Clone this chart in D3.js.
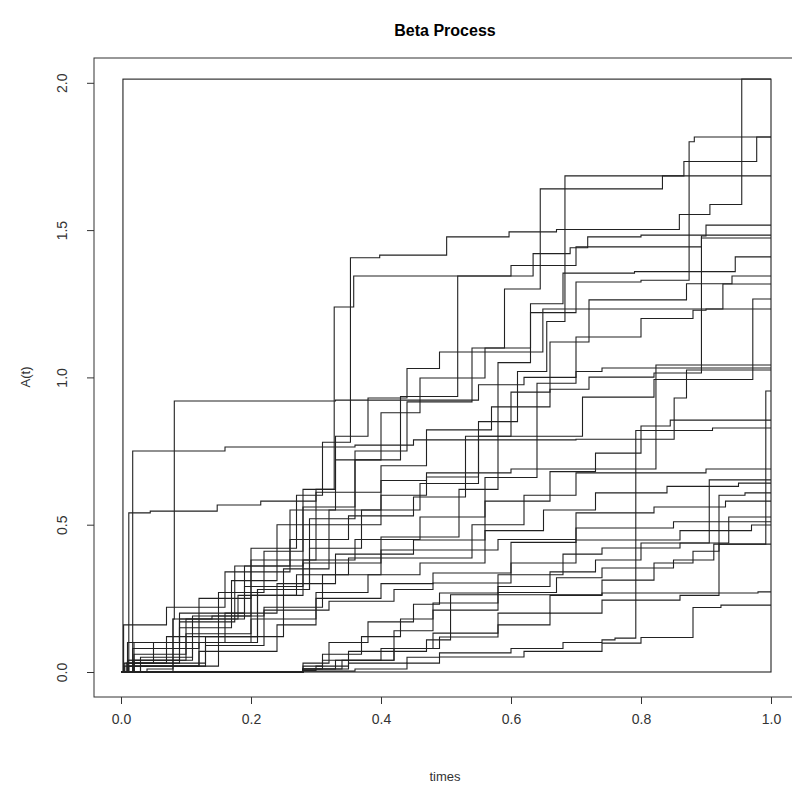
<!DOCTYPE html>
<html>
<head>
<meta charset="utf-8">
<script src="https://cdn.jsdelivr.net/npm/d3@7"></script>
<style>
    body { margin: 0; background: #fff; }
    text { font-family: "Liberation Sans", Arial, sans-serif; }
</style>
</head>
<body>
<svg width="792" height="789"></svg>
<script>
const title = "Beta Process";
const xLabel = "times";
const yLabel = "A(t)";
const xTicks = [0, 0.2, 0.4, 0.6, 0.8, 1.0];
const yTicks = [0, 0.5, 1.0, 1.5, 2.0];
// inner frame drawn around the paths
const frameT = [0.003, 1.0];
const frameA = [0, 2.0125];

// each path: jump times with the value reached after the jump
const paths = [
    [[0.03,0.05],[0.11,0.19],[0.20,0.42],[0.27,0.60],[0.31,0.78],[0.353,1.406],[0.398,1.415],[0.501,1.477],[0.597,1.494],[0.67,1.502],[0.859,1.553],[0.906,1.587],[0.955,2.013]],
    [[0.01,0.04],[0.09,0.15],[0.17,0.31],[0.24,0.50],[0.30,0.62],[0.328,1.239],[0.358,1.344],[0.634,1.42],[0.691,1.44],[0.718,1.477],[0.80,1.483]],
    [[0.01,0.03],[0.07,0.12],[0.15,0.27],[0.22,0.41],[0.28,0.62],[0.33,0.80],[0.38,0.93],[0.44,1.03],[0.49,1.086],[0.649,1.232],[0.926,1.317]],
    [[0.008,0.03],[0.09,0.17],[0.175,0.36],[0.26,0.55],[0.33,0.72],[0.40,0.88],[0.46,0.998],[0.56,1.10],[0.63,1.22],[0.70,1.324],[0.80,1.33],[0.874,1.80],[0.882,1.816]],
    [[0.02,0.03],[0.13,0.12],[0.21,0.28],[0.29,0.52],[0.36,0.72],[0.43,0.935],[0.518,1.344],[0.60,1.38],[0.70,1.443],[0.893,1.473]],
    [[0.08,0.18],[0.082,0.92],[0.33,0.923],[0.55,0.975],[0.62,1.00],[0.70,1.02],[0.74,1.032]],
    [[0.02,0.06],[0.10,0.18],[0.19,0.36],[0.28,0.56],[0.36,0.75],[0.44,0.917],[0.54,1.10],[0.59,1.30],[0.645,1.64],[0.833,1.684]],
    [[0.005,0.02],[0.15,0.12],[0.25,0.35],[0.32,0.55],[0.40,0.70],[0.47,0.822],[0.57,0.90],[0.66,0.96],[0.72,1.001],[0.82,1.015],[0.893,1.48],[0.90,1.517]],
    [[0.018,0.75],[0.16,0.764],[0.36,0.77],[0.45,0.788],[0.70,0.79],[0.851,0.93],[0.87,1.025]],
    [[0.012,0.54],[0.045,0.546],[0.148,0.567],[0.215,0.58],[0.30,0.61],[0.40,0.65],[0.47,0.676],[0.60,0.689],[0.823,1.042]],
    [[0.018,0.08],[0.12,0.25],[0.20,0.38],[0.30,0.50],[0.40,0.60],[0.47,0.662],[0.55,0.80],[0.60,0.95],[0.66,1.12],[0.72,1.263],[0.87,1.318],[0.94,1.344]],
    [[0.012,0.02],[0.12,0.10],[0.21,0.28],[0.29,0.42],[0.37,0.55],[0.46,0.64],[0.55,0.85],[0.61,1.02],[0.655,1.19],[0.683,1.684],[0.866,1.733],[0.978,1.816]],
    [[0.004,0.16],[0.07,0.22],[0.16,0.34],[0.26,0.45],[0.35,0.53],[0.45,0.594],[0.53,0.80],[0.58,1.05],[0.63,1.25],[0.68,1.354],[0.79,1.359],[0.945,1.409]],
    [[0.011,0.04],[0.10,0.13],[0.20,0.26],[0.28,0.38],[0.36,0.45],[0.46,0.526],[0.56,0.66],[0.64,0.80],[0.71,0.933],[0.82,0.993],[0.972,1.266]],
    [[0.02,0.10],[0.09,0.20],[0.19,0.29],[0.28,0.37],[0.40,0.458],[0.52,0.62],[0.58,0.80],[0.64,0.98],[0.70,1.137],[0.80,1.20],[0.88,1.228],[0.90,1.232]],
    [[0.005,0.03],[0.05,0.10],[0.16,0.20],[0.24,0.30],[0.33,0.40],[0.45,0.448],[0.56,0.58],[0.66,0.68],[0.73,0.743],[0.80,0.835],[0.845,0.855]],
    [[0.03,0.02],[0.13,0.09],[0.22,0.22],[0.31,0.33],[0.40,0.414],[0.58,0.45],[0.70,0.489],[0.85,0.51]],
    [[0.01,0.10],[0.09,0.18],[0.18,0.26],[0.27,0.33],[0.35,0.387],[0.54,0.50],[0.62,0.60],[0.70,0.676],[0.90,0.689]],
    [[0.01,0.02],[0.12,0.07],[0.24,0.16],[0.30,0.27],[0.38,0.33],[0.46,0.37],[0.56,0.48],[0.65,0.55],[0.73,0.608],[0.84,0.63],[0.95,0.641]],
    [[0.02,0.04],[0.11,0.10],[0.20,0.18],[0.30,0.25],[0.40,0.30],[0.48,0.336],[0.60,0.44],[0.70,0.54],[0.82,0.56],[0.93,0.58]],
    [[0.04,0.01],[0.08,0.18],[0.14,0.19],[0.22,0.21],[0.32,0.24],[0.42,0.28],[0.48,0.302],[0.60,0.37],[0.70,0.448],[0.86,0.48],[0.97,0.499]],
    [[0.28,0.03],[0.32,0.10],[0.38,0.17],[0.45,0.23],[0.49,0.268],[0.58,0.33],[0.68,0.40],[0.74,0.421],[0.86,0.438],[0.905,0.652]],
    [[0.28,0.02],[0.31,0.06],[0.37,0.12],[0.43,0.18],[0.48,0.234],[0.58,0.29],[0.66,0.34],[0.73,0.38],[0.80,0.438],[0.935,0.526]],
    [[0.28,0.005],[0.30,0.02],[0.35,0.07],[0.42,0.14],[0.48,0.21],[0.58,0.27],[0.67,0.32],[0.74,0.353],[0.85,0.38],[0.912,0.434]],
    [[0.28,0.01],[0.31,0.04],[0.40,0.08],[0.48,0.132],[0.58,0.20],[0.66,0.26],[0.74,0.312],[0.82,0.37],[0.88,0.41],[0.92,0.434],[0.992,0.954]],
    [[0.28,0.01],[0.34,0.04],[0.42,0.08],[0.49,0.119],[0.58,0.16],[0.66,0.20],[0.74,0.244],[0.86,0.26],[0.92,0.60],[0.96,0.608]],
    [[0.28,0.01],[0.33,0.04],[0.42,0.07],[0.47,0.109],[0.507,0.262],[0.74,0.268],[0.98,0.272]],
    [[0.28,0.01],[0.35,0.03],[0.44,0.05],[0.49,0.065],[0.60,0.08],[0.68,0.10],[0.74,0.109],[0.76,0.115],[0.792,0.82],[0.91,0.828]],
    [[0.28,0.003],[0.36,0.01],[0.44,0.03],[0.49,0.051],[0.62,0.07],[0.74,0.098],[0.80,0.117],[0.88,0.219],[0.923,0.227]]
];

let svg = d3.select("svg");
let x = d3.scaleLinear().domain([0, 1]).range([121, 771]);
let y = d3.scaleLinear().domain([0, 2]).range([672, 82.8]);

// plot box (right side runs past the window)
svg.append("rect")
    .attr("x", 94).attr("y", 58)
    .attr("width", 705).attr("height", 639)
    .attr("fill", "none").attr("stroke", "#333").attr("stroke-width", 1);

//axes
let xAxis = svg.append("g").attr("transform", "translate(0,697)")
    .call(d3.axisBottom(x).tickValues(xTicks).tickSize(7).tickPadding(9).tickFormat(d3.format(".1f")));
let yAxis = svg.append("g").attr("transform", "translate(94,0)")
    .call(d3.axisLeft(y).tickValues(yTicks).tickSize(7).tickPadding(10).tickFormat(d3.format(".1f")));
xAxis.select(".domain").remove();
yAxis.select(".domain").remove();
svg.selectAll(".tick line").attr("stroke", "#333");
svg.selectAll(".tick text").attr("fill", "#333").attr("font-size", 14)
    .attr("font-family", "Liberation Sans, Arial, sans-serif");
xAxis.selectAll(".tick text").attr("dy", "0.8em");
yAxis.selectAll(".tick text")
    .attr("text-anchor", "middle").attr("dy", null).attr("x", null)
    .attr("transform", "translate(-32,0) rotate(-90)")
    .attr("dominant-baseline", "central");

//frame
svg.append("rect")
    .attr("x", x(frameT[0])).attr("y", y(frameA[1]))
    .attr("width", x(frameT[1]) - x(frameT[0]))
    .attr("height", y(frameA[0]) - y(frameA[1]))
    .attr("fill", "none").attr("stroke", "#222").attr("stroke-width", 1.1);

//step paths
let line = d3.line()
    .x(function (d) { return x(d[0]); })
    .y(function (d) { return y(d[1]); })
    .curve(d3.curveStepAfter);

svg.append("g").selectAll("path")
    .data(paths)
    .enter().append("path")
    .attr("d", function (p) {
        let pts = [[0, 0]].concat(p);
        pts.push([1, p[p.length - 1][1]]);
        return line(pts);
    })
    .attr("fill", "none")
    .attr("stroke", "#222")
    .attr("stroke-width", 1.1);

//titles
svg.append("text").attr("x", 445).attr("y", 36)
    .attr("text-anchor", "middle").attr("font-size", 16).attr("font-weight", "bold")
    .text(title);
svg.append("text").attr("x", 445).attr("y", 781)
    .attr("text-anchor", "middle").attr("font-size", 13).attr("fill", "#333")
    .text(xLabel);
svg.append("text").attr("transform", "translate(30,377) rotate(-90)")
    .attr("text-anchor", "middle").attr("font-size", 13).attr("fill", "#333")
    .text(yLabel);
</script>
</body>
</html>
